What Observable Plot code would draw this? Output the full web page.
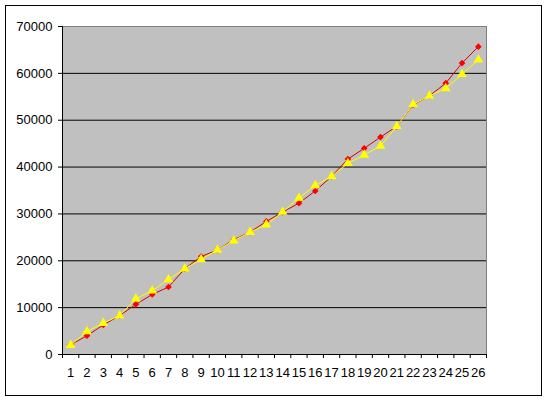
<!DOCTYPE html>
<html>
<head>
<meta charset="utf-8">
<script src="https://cdn.jsdelivr.net/npm/d3@7"></script>
<script src="https://cdn.jsdelivr.net/npm/@observablehq/plot@0.6"></script>
<style>
  html, body { margin: 0; padding: 0; background: #fff; }
  #chart { position: relative; width: 549px; height: 400px; }
  #border { position: absolute; left: 5px; top: 5px; width: 537px; height: 391px; border: 1px solid #000; box-sizing: border-box; pointer-events: none; }
</style>
</head>
<body>
<div id="chart"><div id="border"></div></div>
<script>
const categories = [1,2,3,4,5,6,7,8,9,10,11,12,13,14,15,16,17,18,19,20,21,22,23,24,25,26];
const seriesRed = [2100, 4000, 6300, 8300, 10700, 12800, 14400, 18300, 20900, 22300, 24500, 26100, 28400, 30400, 32300, 34900, 38000, 41700, 44000, 46400, 48700, 53300, 55200, 57900, 62200, 65700];
const seriesYellow = [2000, 4900, 6700, 8300, 11900, 13600, 16000, 18300, 20300, 22300, 24300, 26100, 27700, 30400, 33400, 36100, 38000, 40800, 42600, 44500, 48700, 53400, 55200, 56800, 59800, 62900];
const yTicks = [0, 10000, 20000, 30000, 40000, 50000, 60000, 70000];

const red = categories.map((c, i) => ({x: c, y: seriesRed[i]}));
const yellow = categories.map((c, i) => ({x: c, y: seriesYellow[i]}));
const bandEdges = d3.range(0, categories.length + 1).map(i => i + 0.5);

const chart = Plot.plot({
  width: 549,
  height: 400,
  marginLeft: 62,
  marginRight: 63,
  marginTop: 26,
  marginBottom: 46,
  style: {fontFamily: "'Liberation Sans', Arial, sans-serif", fontSize: "13px", background: "transparent", color: "#000"},
  x: {domain: [0.5, categories.length + 0.5]},
  y: {domain: [0, 70000]},
  marks: [
    Plot.frame({fill: "#c0c0c0", stroke: "#808080"}),
    Plot.ruleY(yTicks.filter(d => d > 0 && d < 70000), {stroke: "#000", strokeWidth: 1}),
    Plot.ruleX([0.5], {stroke: "#000"}),
    Plot.ruleY([0], {stroke: "#000"}),
    Plot.axisY({ticks: yTicks, tickSize: 4, tickPadding: 6, tickFormat: d => String(d), label: null, fontSize: 13}),
    Plot.axisX({ticks: bandEdges, tickSize: 4, tickFormat: () => "", label: null}),
    Plot.axisX({ticks: categories, tickSize: 0, tickPadding: 13, tickFormat: d => String(d), label: null, fontSize: 13}),
    Plot.line(red, {x: "x", y: "y", stroke: "#d40000", strokeWidth: 1}),
    Plot.dot(red, {x: "x", y: "y", symbol: "diamond2", r: 3, fill: "#ff0000", stroke: "none"}),
    Plot.line(yellow, {x: "x", y: "y", stroke: "#ffff00", strokeWidth: 1}),
    Plot.dot(yellow, {x: "x", y: "y", symbol: "triangle", r: 3.6, fill: "#ffff00", stroke: "none"})
  ]
});
document.getElementById("chart").prepend(chart);
chart.style.position = "absolute";
chart.style.left = "0";
chart.style.top = "0";
</script>
</body>
</html>
